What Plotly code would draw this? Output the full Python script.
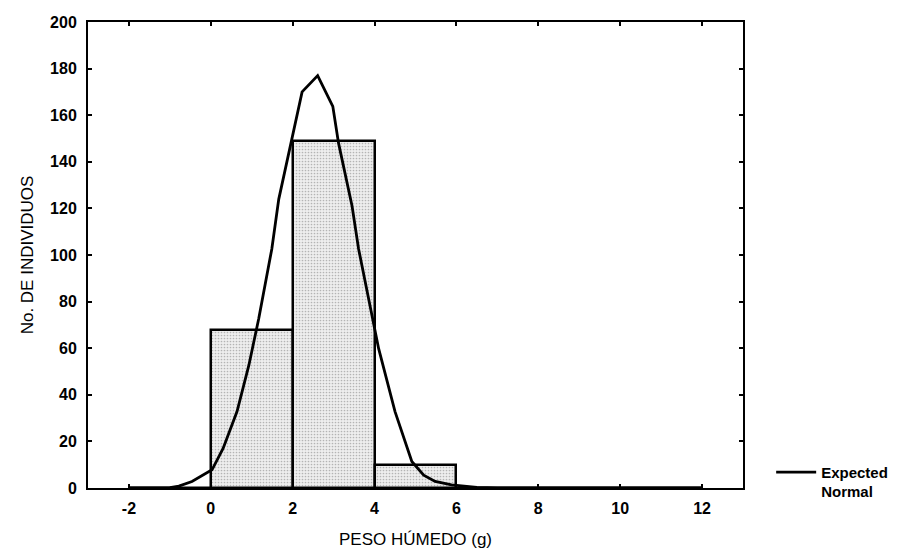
import plotly.graph_objects as go

# Histogram bins (centers) and counts
bin_centers = [-1, 1, 3, 5, 7, 9, 11]
bin_counts = [0, 68, 149, 10, 0, 0, 0]
bin_width = 2

# Expected normal curve
curve_x = [-2, -1.5, -1, -0.78, -0.46, 0.03, 0.3, 0.64, 0.93, 1.17, 1.49, 1.66, 1.98, 2.23, 2.61,
           2.98, 3.12, 3.45, 3.61, 3.93, 4.1, 4.5, 4.91, 5.2, 5.48, 5.88, 6.5, 7, 8, 9, 10, 11, 12]
curve_y = [0, 0, 0.2, 0.8, 2.8, 7.8, 17, 32.8, 52.7, 72.6, 102.6, 124, 149.6, 170, 177,
           163.8, 148, 121, 102.6, 74, 59.8, 32.8, 11.4, 5.5, 2.8, 1.3, 0.3, 0, 0, 0, 0, 0, 0]

x_ticks = [-2, 0, 2, 4, 6, 8, 10, 12]
y_ticks = list(range(0, 201, 20))

FONT = "Liberation Sans, Arial, sans-serif"

fig = go.Figure()
fig.add_trace(go.Bar(
    x=bin_centers, y=bin_counts, width=[bin_width] * len(bin_centers),
    marker=dict(color="#eeeeee",
                line=dict(color="black", width=2.5),
                pattern=dict(shape=".", fgcolor="#7a7a7a", size=3, solidity=0.25)),
    showlegend=False, hoverinfo="skip",
))
fig.add_trace(go.Scatter(
    x=curve_x, y=curve_y, mode="lines",
    line=dict(color="black", width=2.8),
    name="Expected<br>Normal", showlegend=True,
))

fig.update_layout(
    width=898, height=554,
    margin=dict(l=88, r=155, t=22, b=66, autoexpand=False),
    paper_bgcolor="white", plot_bgcolor="white",
    font=dict(family=FONT, size=17, color="black"),
    bargap=0,
    legend=dict(x=1.043, xanchor="left", y=0.069, yanchor="top",
                font=dict(size=15, family=FONT, weight="bold"), valign="top", itemwidth=40,
                bgcolor="rgba(0,0,0,0)", tracegroupgap=0),
    xaxis=dict(range=[-3, 13], tickvals=x_ticks, ticktext=[str(v) for v in x_ticks],
               showgrid=False, zeroline=False, automargin=False,
               showline=True, linecolor="black", linewidth=2, mirror="ticks",
               ticks="inside", ticklen=4, tickwidth=1.5, tickcolor="black",
               ticklabelstandoff=5,
               tickfont=dict(size=16, family=FONT, weight="bold"),
               title=dict(text="PESO HÚMEDO (g)", font=dict(size=17, family=FONT), standoff=17)),
    yaxis=dict(range=[0, 200], tickvals=y_ticks,
               showgrid=False, zeroline=False, automargin=False,
               showline=True, linecolor="black", linewidth=2, mirror="ticks",
               ticks="inside", ticklen=4, tickwidth=1.5, tickcolor="black",
               ticklabelstandoff=6,
               tickfont=dict(size=16, family=FONT, weight="bold"),
               title=dict(text="No. DE INDIVIDUOS", font=dict(size=17, family=FONT), standoff=12)),
)

fig.write_html("out.html")
